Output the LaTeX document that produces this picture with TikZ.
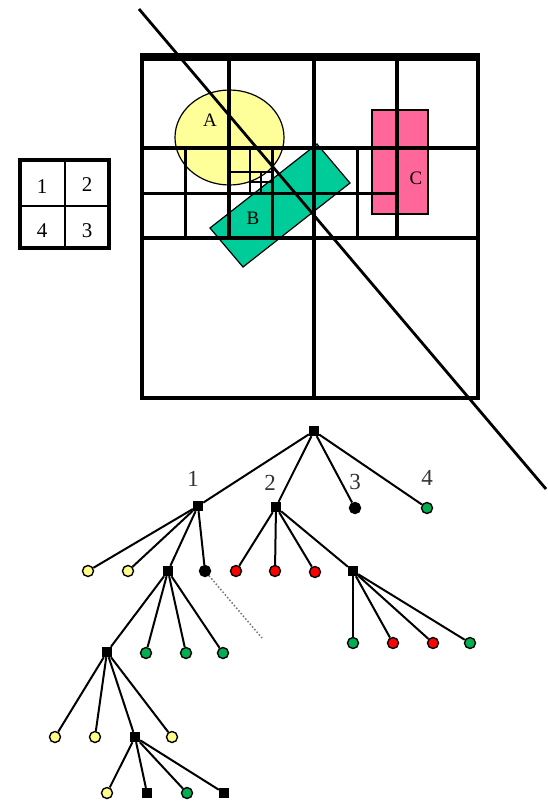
\documentclass[tikz,border=0pt]{standalone}
\usepackage{fontspec}
\setmainfont{Liberation Serif}
\usepackage{tikz}
\usetikzlibrary{positioning}
\definecolor{regionYellow}{HTML}{FFFF99}
\definecolor{regionPink}{HTML}{FF6699}
\definecolor{regionGreen}{HTML}{00CC99}
\definecolor{leafYellow}{HTML}{FFFF88}
\definecolor{leafGreen}{HTML}{00B050}
\definecolor{leafRed}{HTML}{FF0000}
\tikzset{
  % quadtree grid, thinner at deeper levels
  border/.style={line width=4.5pt, line cap=rect},
  gridA/.style={line width=3.8pt},
  gridB/.style={line width=3.4pt},
  gridC/.style={line width=3pt},
  gridD/.style={line width=2.4pt},
  gridE/.style={line width=1.8pt},
  region/.style={draw=black, line width=1.2pt, fill=#1},
  regionlab/.style={font=\fontsize{19}{21}\selectfont, inner sep=0pt},
  cutline/.style={line width=2.8pt},
  % tree
  inner/.style={rectangle, fill=black, minimum size=10pt, inner sep=0pt},
  leaf/.style={circle, draw=black, line width=1.4pt, fill=#1, minimum size=11pt, inner sep=0pt},
  leaf/.default=black,
  branch/.style={line width=2pt},
  faint/.style={line width=1.5pt, dotted, draw=black!55},
  treelab/.style={font=\fontsize{23}{25}\selectfont, text=black!80, inner sep=0pt},
  keylab/.style={font=\fontsize{21}{23}\selectfont, inner sep=0pt}
}
\begin{document}
\begin{tikzpicture}[x=1pt,y=-1pt]
\useasboundingbox (0,0) rectangle (547,804);

% objects
\draw[region=regionYellow] (229.5,137.5) ellipse [x radius=54.5, y radius=47.5];
\draw[region=regionPink] (372,110) rectangle (428,214);
\draw[region=regionGreen] (210,228) -- (317,144) -- (350,183) -- (243,267) -- cycle;
\node[regionlab] (labA) at (210,120) {A};
\node[regionlab] (labB) at (253,218) {B};
\node[regionlab] (labC) at (416,178) {C};

% quadtree cells
\draw[gridE] (261,172) -- (261,193);
\draw[gridE] (250,182) -- (272,182);
\draw[gridD] (250,148) -- (250,193);
\draw[gridD] (229,172) -- (272,172);
\draw[gridC] (185,148) -- (185,238);
\draw[gridC] (272,148) -- (272,238);
\draw[gridC] (357,148) -- (357,238);
\draw[gridC] (142,193) -- (397,193);
\draw[gridB] (229,56) -- (229,238);
\draw[gridB] (397,56) -- (397,238);
\draw[gridB] (142,148) -- (478,148);
\draw[gridA] (314,56) -- (314,398);
\draw[gridA] (142,238) -- (478,238);
\draw[border] (142,57) rectangle (478,398);
\draw[line width=7.5pt] (140,57) -- (480,57);

\draw[cutline] (139,9) -- (546,489);

% key of the quadrants
\draw[line width=3.5pt] (20,160) rectangle (109,248);
\draw[line width=2.6pt] (65,160) -- (65,248);
\draw[line width=2.6pt] (20,206) -- (109,206);
\node[keylab] (key1) at (42,187) {1};
\node[keylab] (key2) at (87,185) {2};
\node[keylab] (key4) at (42,231) {4};
\node[keylab] (key3) at (87,231) {3};

% tree
\node[inner] (root) at (314,431) {};
\node[inner] (q1) at (198,506) {};
\node[inner] (q2) at (276,507) {};
\node[leaf] (q3) at (355,508) {};
\node[leaf=leafGreen] (q4) at (427,508) {};
\node[treelab] (t1) at (193,479) {1};
\node[treelab] (t2) at (270,483) {2};
\node[treelab] (t3) at (355,482) {3};
\node[treelab] (t4) at (427,478) {4};

\node[leaf=leafYellow] (q11) at (88,571) {};
\node[leaf=leafYellow] (q12) at (128,571) {};
\node[inner] (q13) at (168,571) {};
\node[leaf] (q14) at (205,571) {};
\coordinate (q14far) at (262,638);

\node[leaf=leafRed] (q21) at (236,571) {};
\node[leaf=leafRed] (q22) at (275,571) {};
\node[leaf=leafRed] (q23) at (315,572) {};
\node[inner] (q24) at (353,571) {};

\node[leaf=leafGreen] (q241) at (353,643) {};
\node[leaf=leafRed] (q242) at (393,643) {};
\node[leaf=leafRed] (q243) at (433,643) {};
\node[leaf=leafGreen] (q244) at (470,643) {};

\node[inner] (q131) at (107,652) {};
\node[leaf=leafGreen] (q132) at (146,653) {};
\node[leaf=leafGreen] (q133) at (186,653) {};
\node[leaf=leafGreen] (q134) at (223,653) {};

\node[leaf=leafYellow] (q1311) at (55,737) {};
\node[leaf=leafYellow] (q1312) at (95,737) {};
\node[inner] (q1313) at (135,737) {};
\node[leaf=leafYellow] (q1314) at (172,737) {};

\node[leaf=leafYellow] (q13131) at (107,793) {};
\node[inner] (q13132) at (147,793) {};
\node[leaf=leafGreen] (q13133) at (187,793) {};
\node[inner] (q13134) at (224,793) {};

\foreach \c in {q1,q2,q3,q4} \draw[branch] (root) -- (\c);
\foreach \c in {q11,q12,q13,q14} \draw[branch] (q1) -- (\c);
\foreach \c in {q21,q22,q23,q24} \draw[branch] (q2) -- (\c);
\foreach \c in {q241,q242,q243,q244} \draw[branch] (q24) -- (\c);
\foreach \c in {q131,q132,q133,q134} \draw[branch] (q13) -- (\c);
\foreach \c in {q1311,q1312,q1313,q1314} \draw[branch] (q131) -- (\c);
\foreach \c in {q13131,q13132,q13133,q13134} \draw[branch] (q1313) -- (\c);
\draw[faint] (q14) -- (q14far);

\end{tikzpicture}
\end{document}
